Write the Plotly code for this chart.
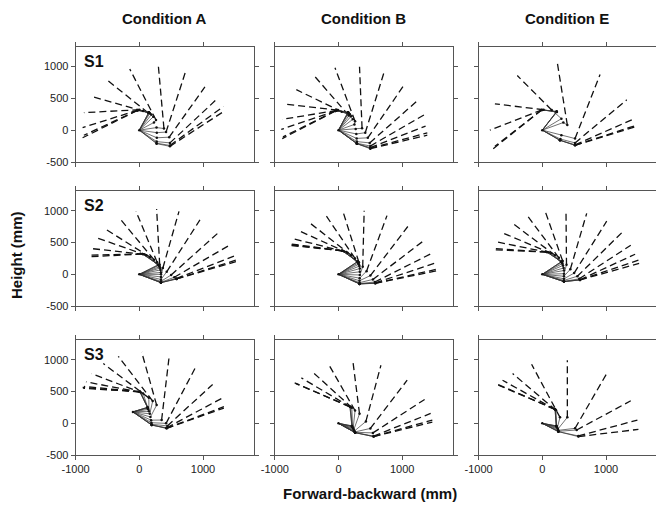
import plotly.graph_objects as go

conditions = ["Condition A", "Condition B", "Condition E"]
subjects = ["S1", "S2", "S3"]
x_ticks = [-1000, 0, 1000]
x_tick_labels = ["-1000", "0", "1000"]
y_ticks = [-500, 0, 500, 1000]
y_tick_labels = ["-500", "0", "500", "1000"]

# ---------------- S1 ----------------
s1a_origin = [0, 0]
s1a_ex = [150, 150, 155, 165, 190, 220, 230, 270, 275, 275, 272, 272, 272]
s1a_ey = [280, 280, 275, 265, 245, 210, 120, 40, -40, -120, -180, -205, -212]
s1a_wx = [-30, -30, -20, 0, 60, 140, 262, 387, 420, 470, 481, 481, 481]
s1a_wy = [310, 310, 315, 320, 300, 270, 159, 26, -30, -110, -200, -240, -254]
s1a_tx = [-890, -870, -890, -870, -750, -510, -150, 300, 720, 1030, 1210, 1320, 1320]
s1a_ty = [-120, -80, 40, 275, 530, 790, 960, 1000, 900, 680, 480, 370, 290]

s1b_origin = [0, 0]
s1b_ex = [150, 150, 150, 160, 180, 200, 225, 250, 270, 280, 285, 288, 288, 288, 288, 288]
s1b_ey = [280, 280, 280, 270, 250, 220, 170, 90, 20, -60, -130, -180, -205, -212, -212, -212]
s1b_wx = [-50, -50, -40, -30, -10, 50, 160, 260, 370, 420, 460, 490, 499, 499, 499, 499]
s1b_wy = [300, 300, 305, 310, 315, 290, 230, 140, 30, -40, -120, -200, -250, -275, -285, -291]
s1b_tx = [-883, -872, -899, -883, -820, -662, -398, -55, 330, 709, 1015, 1225, 1341, 1367, 1394, 1394]
s1b_ty = [-132, -106, 11, 169, 407, 635, 873, 979, 995, 889, 688, 450, 238, 63, -42, -79]

s1e_origin = [0, 0]
s1e_ex = [225, 225, 225, 230, 300, 330, 300, 285, 278, 278, 278]
s1e_ey = [291, 291, 291, 285, 180, 120, -80, -140, -159, -159, -159]
s1e_wx = [-10, -10, -5, 20, 147, 393, 514, 514, 514, 514, 514]
s1e_wy = [317, 317, 318, 320, 317, 79, -132, -200, -230, -238, -238]
s1e_tx = [-770, -744, -823, -744, -393, 236, 907, 1326, 1457, 1483, 1483]
s1e_ty = [-291, -254, 0, 413, 857, 1058, 873, 476, 185, 79, 60]

# ---------------- S2 ----------------
s2a_origin = [0, 0]
s2a_ex = [300, 300, 310, 320, 330, 335, 340, 340, 340, 340, 340, 340, 340, 340, 340]
s2a_ey = [150, 150, 140, 120, 100, 70, 30, 0, -40, -80, -110, -125, -130, -130, -130]
s2a_wx = [50, 50, 70, 110, 170, 230, 280, 320, 370, 430, 500, 550, 580, 586, 586]
s2a_wy = [320, 320, 315, 300, 270, 230, 190, 150, 100, 40, -10, -45, -65, -72, -72]
s2a_tx = [-800, -785, -748, -670, -539, -314, -52, 272, 623, 952, 1240, 1413, 1486, 1517, 1517]
s2a_ty = [275, 300, 404, 575, 715, 886, 989, 1026, 989, 855, 653, 456, 285, 223, 200]

s2b_origin = [0, 0]
s2b_ex = [300, 300, 300, 310, 320, 330, 335, 335, 335, 332, 330, 330, 330, 330, 330, 330]
s2b_ey = [200, 200, 200, 180, 160, 130, 90, 40, -10, -60, -100, -130, -145, -150, -150, -150]
s2b_wx = [60, 60, 60, 90, 140, 200, 260, 320, 380, 440, 500, 540, 570, 578, 578, 578]
s2b_wy = [370, 370, 370, 360, 340, 300, 250, 190, 120, 50, -20, -80, -120, -135, -140, -140]
s2b_tx = [-777, -770, -760, -714, -609, -451, -213, 66, 403, 761, 1088, 1331, 1457, 1526, 1542, 1542]
s2b_ty = [466, 480, 455, 559, 679, 808, 948, 1000, 1000, 922, 751, 523, 326, 181, 80, 55]

s2e_origin = [0, 0]
s2e_ex = [300, 300, 305, 315, 325, 335, 340, 340, 340, 340, 340, 340, 340, 340, 340]
s2e_ey = [200, 200, 190, 170, 140, 100, 60, 10, -30, -70, -95, -110, -114, -114, -114]
s2e_wx = [70, 70, 90, 140, 200, 260, 320, 380, 440, 500, 550, 580, 592, 592, 592]
s2e_wy = [350, 350, 345, 330, 300, 260, 210, 150, 80, 20, -30, -70, -85, -88, -88]
s2e_tx = [-755, -745, -707, -613, -456, -236, 42, 372, 697, 1011, 1247, 1389, 1457, 1509, 1520]
s2e_ty = [404, 385, 508, 647, 793, 922, 1000, 1010, 958, 834, 653, 456, 316, 223, 171]

# ---------------- S3 ----------------
s3a_origin = [-100, 180]
s3a_ex = [130, 130, 130, 135, 140, 150, 165, 175, 185, 190, 194, 194, 194, 194]
s3a_ey = [250, 250, 250, 240, 220, 190, 150, 100, 50, 10, -15, -26, -26, -26]
s3a_wx = [10, 10, 10, 20, 60, 150, 210, 272, 350, 420, 440, 429, 429, 429]
s3a_wy = [495, 495, 495, 490, 470, 400, 350, 287, 52, 0, -40, -70, -78, -78]
s3a_tx = [-889, -880, -870, -837, -748, -565, -330, 37, 471, 873, 1151, 1292, 1328, 1328]
s3a_ty = [563, 550, 580, 651, 781, 938, 1052, 1120, 1068, 860, 610, 391, 261, 240]

s3b_origin = [0, 0]
s3b_ex = [210, 210, 215, 220, 230, 240, 250, 255, 258, 261, 261, 261]
s3b_ey = [-40, -40, -50, -60, -80, -100, -120, -135, -140, -146, -146, -146]
s3b_wx = [180, 180, 190, 210, 260, 330, 430, 500, 540, 551, 551, 551]
s3b_wy = [260, 260, 255, 245, 200, 150, 30, -80, -150, -200, -208, -208]
s3b_tx = [-688, -670, -583, -425, -161, 224, 666, 1078, 1352, 1447, 1473, 1473]
s3b_ty = [636, 625, 714, 823, 938, 990, 912, 677, 375, 156, 52, 20]

s3e_origin = [0, 0]
s3e_ex = [220, 220, 220, 225, 235, 245, 250, 252, 252, 252]
s3e_ey = [-40, -40, -45, -55, -70, -90, -110, -125, -130, -130]
s3e_wx = [200, 200, 205, 215, 278, 393, 514, 540, 566, 566]
s3e_wy = [220, 220, 215, 205, 94, 94, -78, -104, -198, -208]
s3e_tx = [-707, -690, -624, -466, -168, 393, 1011, 1389, 1493, 1509]
s3e_ty = [615, 600, 677, 781, 927, 990, 781, 354, 52, -94]

panels = [
    [(s1a_origin, s1a_ex, s1a_ey, s1a_wx, s1a_wy, s1a_tx, s1a_ty),
     (s1b_origin, s1b_ex, s1b_ey, s1b_wx, s1b_wy, s1b_tx, s1b_ty),
     (s1e_origin, s1e_ex, s1e_ey, s1e_wx, s1e_wy, s1e_tx, s1e_ty)],
    [(s2a_origin, s2a_ex, s2a_ey, s2a_wx, s2a_wy, s2a_tx, s2a_ty),
     (s2b_origin, s2b_ex, s2b_ey, s2b_wx, s2b_wy, s2b_tx, s2b_ty),
     (s2e_origin, s2e_ex, s2e_ey, s2e_wx, s2e_wy, s2e_tx, s2e_ty)],
    [(s3a_origin, s3a_ex, s3a_ey, s3a_wx, s3a_wy, s3a_tx, s3a_ty),
     (s3b_origin, s3b_ex, s3b_ey, s3b_wx, s3b_wy, s3b_tx, s3b_ty),
     (s3e_origin, s3e_ex, s3e_ey, s3e_wx, s3e_wy, s3e_tx, s3e_ty)],
]

W, H = 656, 515
col_px = [(75.6, 253.9), (274.8, 453.1), (478.6, 656.0)]
col_xrange = [[-1000, 1799], [-1000, 1799], [-1000, 1785]]
row_px = [(46.7, 162.0), (190.9, 306.2), (339.9, 455.2)]
y_range = [-500, 1310]

FONT = "Arial, Liberation Sans, sans-serif"
AX = "#555555"

fig = go.Figure()
layout = dict(
    template="none",
    width=W, height=H, margin=dict(l=0, r=0, t=0, b=0, autoexpand=False),
    paper_bgcolor="white", plot_bgcolor="white", showlegend=False,
    font=dict(family=FONT, color="#222222"),
)

for r in range(3):
    for c in range(3):
        k = r * 3 + c + 1
        xa = "x" if k == 1 else f"x{k}"
        ya = "y" if k == 1 else f"y{k}"
        (o, ex, ey, wx, wy, tx, ty) = panels[r][c]
        sx, sy, dx, dy, mx, my = [], [], [], [], [], []
        for i in range(len(ex)):
            sx += [o[0], ex[i], wx[i], None]
            sy += [o[1], ey[i], wy[i], None]
            dx += [wx[i], tx[i], None]
            dy += [wy[i], ty[i], None]
            mx += [ex[i], wx[i]]
            my += [ey[i], wy[i]]
        fig.add_trace(go.Scatter(x=dx, y=dy, mode="lines", xaxis=xa, yaxis=ya,
                                 line=dict(color="#111111", width=1.3, dash="7px,4px"),
                                 hoverinfo="skip"))
        fig.add_trace(go.Scatter(x=sx, y=sy, mode="lines", xaxis=xa, yaxis=ya,
                                 line=dict(color="#333333", width=0.7),
                                 hoverinfo="skip"))
        fig.add_trace(go.Scatter(x=mx + [o[0]], y=my + [o[1]], mode="markers",
                                 xaxis=xa, yaxis=ya,
                                 marker=dict(color="#111111", size=2.5),
                                 hoverinfo="skip"))
        x0, x1 = col_px[c]
        y0, y1 = row_px[r]
        xkey = "xaxis" if k == 1 else f"xaxis{k}"
        ykey = "yaxis" if k == 1 else f"yaxis{k}"
        layout[xkey] = dict(
            domain=[x0 / W, x1 / W], range=col_xrange[c], anchor=ya,
            showline=True, linecolor=AX, linewidth=1, mirror="ticks",
            ticks="outside", ticklen=4, tickcolor=AX, tickwidth=1,
            showgrid=False, zeroline=False, tickvals=x_ticks, ticktext=x_tick_labels,
            automargin=False,
            showticklabels=(r == 2), tickfont=dict(size=11, family=FONT, color="#222222"),
            fixedrange=True,
        )
        layout[ykey] = dict(
            domain=[1 - y1 / H, 1 - y0 / H], range=y_range, anchor=xa,
            showline=True, linecolor=AX, linewidth=1, mirror="ticks",
            ticks="outside", ticklen=4, tickcolor=AX, tickwidth=1,
            showgrid=False, zeroline=False, tickvals=y_ticks, ticktext=y_tick_labels,
            automargin=False,
            showticklabels=(c == 0), tickfont=dict(size=11, family=FONT, color="#222222"),
            fixedrange=True,
        )

annotations = []
for c, name in enumerate(conditions):
    cx = (col_px[c][0] + col_px[c][1]) / 2
    annotations.append(dict(text=f"<b>{name}</b>", x=cx / W, y=1 - 18 / H,
                            xref="paper", yref="paper", showarrow=False,
                            xanchor="center", yanchor="middle",
                            font=dict(size=15, family=FONT, color="#111111")))
for r, s in enumerate(subjects):
    annotations.append(dict(text=f"<b>{s}</b>", x=82 / W, y=1 - (row_px[r][0] + 15) / H,
                            xref="paper", yref="paper", showarrow=False,
                            xanchor="left", yanchor="middle",
                            font=dict(size=16, family=FONT, color="#111111")))
annotations.append(dict(text="<b>Height (mm)</b>", x=16 / W, y=1 - 255 / H,
                        xref="paper", yref="paper", showarrow=False, textangle=-90,
                        xanchor="center", yanchor="middle",
                        font=dict(size=15, family=FONT, color="#111111")))
annotations.append(dict(text="<b>Forward-backward (mm)</b>", x=370 / W, y=1 - 493 / H,
                        xref="paper", yref="paper", showarrow=False,
                        xanchor="center", yanchor="middle",
                        font=dict(size=15, family=FONT, color="#111111")))
layout["annotations"] = annotations
fig.update_layout(**layout)
fig.write_html("out.html")
